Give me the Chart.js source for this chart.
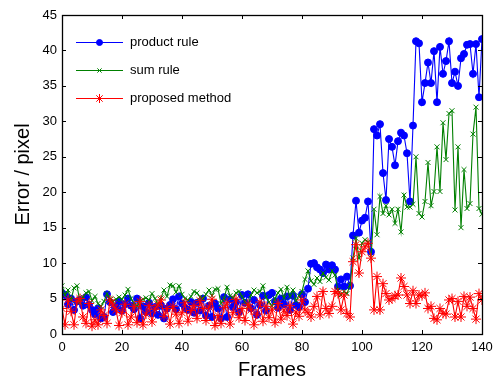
<!DOCTYPE html>
<html>
<head>
<meta charset="utf-8">
<script src="https://cdn.jsdelivr.net/npm/chart.js@4.4.1/dist/chart.umd.min.js"></script>
<style>
  html, body { margin: 0; padding: 0; background: #fff; }
  #wrap { width: 494px; height: 383px; }
</style>
</head>
<body>
<div id="wrap"><canvas id="chart" width="494" height="383"></canvas></div>
<script>
// Tracking error per frame for three fusion methods

const frameCount = 141;
const xTicks = [0, 20, 40, 60, 80, 100, 120, 140];
const yTicks = [0, 5, 10, 15, 20, 25, 30, 35, 40, 45];
const seriesNames = ['product rule', 'sum rule', 'proposed method'];

const productRule = [
  5.8, 5.5, 4.2, 5.0, 3.4, 4.6, 4.8, 4.0, 5.2, 4.1,
  3.4, 2.8, 3.6, 2.2, 2.4, 5.6, 4.5, 3.1, 3.8, 4.6,
  3.3, 4.2, 5.0, 4.0, 3.5, 5.0, 2.2, 3.9, 3.1, 4.4,
  2.9, 3.8, 2.7, 4.0, 2.2, 3.6, 4.1, 4.9, 3.5, 5.3,
  4.3, 3.7, 3.4, 4.5, 3.0, 4.4, 3.3, 5.0, 2.6, 4.0,
  2.4, 4.3, 3.6, 2.2, 5.2, 2.4, 4.9, 3.8, 4.5, 3.1,
  5.5, 4.4, 5.6, 3.6, 4.8, 2.7, 4.1, 5.4, 3.3, 5.5,
  5.8, 4.6, 3.7, 5.0, 4.2, 5.3, 3.4, 5.4, 4.1, 3.8,
  5.6, 4.5, 6.4, 9.9, 10.0, 9.4, 9.1, 8.6, 9.8, 9.1,
  9.7, 9.1, 6.7, 7.7, 6.7, 8.1, 6.8, 13.9, 18.8, 14.3,
  16.0, 16.4, 18.7, 11.6, 28.9, 28.0, 29.6, 22.7, 18.9, 27.5,
  26.4, 23.8, 27.2, 28.4, 28.0, 25.5, 18.7, 29.4, 41.3, 41.0,
  32.7, 35.4, 38.3, 35.4, 39.9, 32.7, 40.5, 36.7, 38.5, 41.3,
  35.4, 37.0, 35.0, 38.9, 39.5, 40.8, 40.9, 36.7, 40.9, 33.4,
  41.6
];

const sumRule = [
  6.8, 5.5, 6.2, 4.8, 6.5, 6.8, 4.5, 5.2, 5.8, 6.0,
  4.7, 5.3, 4.3, 3.9, 4.6, 5.7, 5.0, 4.6, 4.9, 5.2,
  4.9, 5.5, 6.3, 5.0, 4.4, 3.9, 4.6, 4.9, 5.1, 4.8,
  5.7, 5.0, 4.2, 5.1, 6.2, 5.3, 6.9, 6.8, 5.9, 6.8,
  5.6, 5.0, 4.8, 5.3, 6.0, 5.8, 5.2, 5.0, 5.6, 6.2,
  5.4, 6.3, 6.4, 4.3, 5.0, 6.6, 5.4, 5.1, 5.8, 6.0,
  5.3, 4.6, 3.9, 5.5, 6.2, 5.8, 6.0, 6.8, 5.2, 4.5,
  3.9, 5.0, 5.8, 6.3, 5.1, 6.6, 5.3, 6.2, 4.7, 5.4,
  6.0, 7.7, 8.9, 7.5, 7.0, 7.9, 7.4, 8.6, 8.0, 7.6,
  8.9, 8.3, 6.2, 5.5, 6.0, 5.7, 6.9, 10.7, 13.5, 10.7,
  12.8, 13.3, 13.0, 10.7, 17.6, 14.0, 19.4, 17.0, 18.1, 16.8,
  17.6, 15.6, 17.6, 14.4, 19.6, 17.9, 17.9, 18.3, 25.0, 17.0,
  16.5, 18.7, 24.2, 18.1, 20.1, 26.4, 20.1, 29.8, 24.6, 31.1,
  31.5, 17.5, 26.4, 15.0, 23.2, 17.7, 18.4, 28.2, 32.0, 17.7,
  16.9
];

const proposedMethod = [
  3.6, 1.3, 4.8, 3.2, 1.3, 4.6, 5.0, 2.4, 1.5, 4.3,
  1.1, 2.0, 1.3, 3.4, 2.6, 1.5, 4.8, 4.1, 3.4, 1.2,
  3.0, 4.2, 1.3, 2.4, 3.9, 1.6, 4.6, 1.3, 2.8, 4.0,
  1.7, 3.5, 4.1, 4.8, 2.5, 3.6, 1.4, 3.9, 2.8, 1.5,
  3.0, 4.4, 1.8, 3.3, 4.0, 2.2, 4.7, 3.6, 1.9, 3.8,
  4.9, 1.2, 2.6, 1.5, 3.7, 4.4, 1.4, 3.0, 4.9, 2.3,
  3.6, 1.9, 4.2, 3.4, 1.3, 2.8, 4.5, 1.8, 3.9, 2.3,
  3.5, 1.6, 4.3, 2.1, 3.4, 2.6, 4.0, 1.4, 3.1, 2.5,
  4.8, 3.4, 3.0, 2.4, 3.9, 5.3, 2.7, 6.0, 3.6, 2.9,
  3.9, 6.0, 5.7, 3.4, 5.5, 2.9, 2.4, 10.2, 12.6, 8.6,
  11.6, 12.3, 12.8, 10.7, 3.4, 8.1, 3.4, 7.1, 5.7, 4.8,
  5.0, 5.4, 5.5, 7.9, 6.7, 5.5, 4.3, 6.1, 4.3, 5.5,
  5.4, 5.8, 3.6, 3.9, 2.2, 2.0, 3.6, 2.9, 2.8, 4.8,
  5.0, 2.4, 4.6, 2.4, 5.3, 3.9, 5.2, 3.6, 2.1, 5.7,
  4.8
];

const frames = Array.from({ length: frameCount }, (_, i) => i);
const toPoints = (vals) => vals.map((v, i) => ({ x: frames[i], y: v }));

Chart.defaults.font.family = '"Liberation Sans", Arial, sans-serif';
Chart.defaults.color = '#000';

// box round the plot with inward ticks on all four sides, MATLAB style
const frameBox = {
  id: 'frameBox',
  afterDraw(chart) {
    const { ctx, chartArea: a, scales: { x, y } } = chart;
    const len = 4;
    ctx.save();
    ctx.strokeStyle = '#000';
    ctx.lineWidth = 1;
    ctx.beginPath();
    xTicks.forEach((v) => {
      const px = Math.round(x.getPixelForValue(v)) + 0.5;
      ctx.moveTo(px, a.bottom); ctx.lineTo(px, a.bottom - len);
      ctx.moveTo(px, a.top); ctx.lineTo(px, a.top + len);
    });
    yTicks.forEach((v) => {
      const py = Math.round(y.getPixelForValue(v)) + 0.5;
      ctx.moveTo(a.left, py); ctx.lineTo(a.left + len, py);
      ctx.moveTo(a.right, py); ctx.lineTo(a.right - len, py);
    });
    ctx.stroke();
    ctx.lineWidth = 1.3;
    ctx.strokeRect(Math.round(a.left) + 0.5, Math.round(a.top) + 0.5,
      Math.round(a.right - a.left), Math.round(a.bottom - a.top));
    ctx.restore();
  }
};

// legend in the top left corner: line sample with its marker in the middle
const insideLegend = {
  id: 'insideLegend',
  afterDraw(chart) {
    const { ctx } = chart;
    const x0 = 76, x1 = 123, tx = 130;
    const rows = [42, 70, 98];
    ctx.save();
    ctx.font = '13px "Liberation Sans", Arial, sans-serif';
    ctx.textBaseline = 'middle';
    chart.data.datasets.forEach((ds, i) => {
      const yy = rows[i] + 0.5;
      ctx.strokeStyle = ds.borderColor;
      ctx.fillStyle = ds.borderColor;
      ctx.lineWidth = 1.2;
      ctx.beginPath();
      ctx.moveTo(x0, yy); ctx.lineTo(x1, yy);
      ctx.stroke();
      ctx.lineWidth = 1;
      Chart.helpers.drawPoint(ctx, {
        pointStyle: ds.pointStyle, radius: ds.pointRadius - 0.5,
        borderWidth: 1
      }, (x0 + x1) / 2, yy);
      ctx.fillStyle = '#000';
      ctx.fillText(seriesNames[i], tx, rows[i]);
    });
    ctx.restore();
  }
};

function series(i, vals, color, style, radius, order) {
  return {
    label: seriesNames[i],
    data: toPoints(vals),
    borderColor: color,
    backgroundColor: color,
    pointBackgroundColor: color,
    pointBorderColor: color,
    borderWidth: 1.1,
    pointBorderWidth: 1,
    pointStyle: style,
    pointRadius: radius,
    tension: 0,
    order: order
  };
}

new Chart(document.getElementById('chart'), {
  type: 'line',
  data: {
    datasets: [
      series(0, productRule, '#0000ff', 'circle', 3.5, 3),
      series(1, sumRule, '#008000', 'crossRot', 3.5, 2),
      series(2, proposedMethod, '#ff0000', 'star', 5, 1)
    ]
  },
  options: {
    responsive: false,
    animation: false,
    devicePixelRatio: 1,
    layout: { padding: { top: 15, right: 12, left: 0, bottom: 0 } },
    plugins: { legend: { display: false }, tooltip: { enabled: false } },
    scales: {
      x: {
        type: 'linear', min: 0, max: 140,
        grid: { display: false, drawTicks: false },
        border: { display: false },
        afterBuildTicks: (s) => { s.ticks = xTicks.map(v => ({ value: v })); },
        ticks: { font: { size: 13 }, padding: 6, maxRotation: 0 },
        title: { display: true, text: 'Frames', font: { size: 20 }, padding: { top: 1, bottom: 1 } },
        afterFit: (s) => { s.height = 49; s.paddingLeft = 0; s.paddingRight = 0; }
      },
      y: {
        min: 0, max: 45,
        grid: { display: false, drawTicks: false },
        border: { display: false },
        afterBuildTicks: (s) => { s.ticks = yTicks.map(v => ({ value: v })); },
        ticks: { font: { size: 13 }, padding: 5 },
        title: { display: true, text: 'Error / pixel', font: { size: 20 }, padding: { top: 11, bottom: 11 } },
        afterFit: (s) => { s.width = 62; s.paddingTop = 0; s.paddingBottom = 0; }
      }
    }
  },
  plugins: [frameBox, insideLegend]
});
</script>
</body>
</html>
